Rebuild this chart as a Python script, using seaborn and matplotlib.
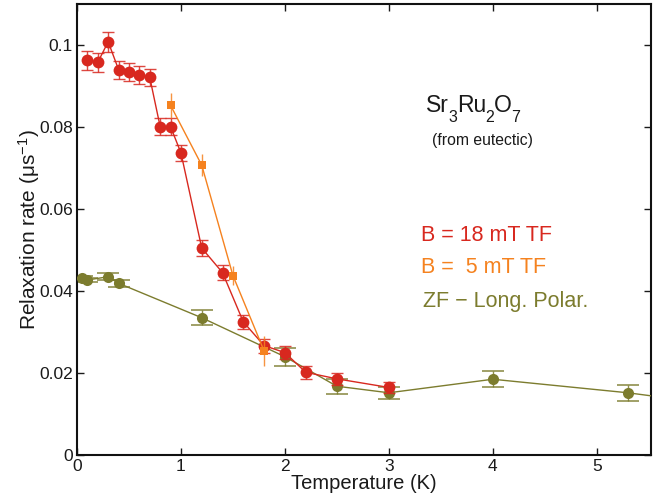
import matplotlib
matplotlib.use("Agg")
import matplotlib.pyplot as plt
import matplotlib.transforms as mtransforms
import seaborn as sns
import pandas as pd

# 18 mT TF (red)
t_red = [0.1, 0.2, 0.3, 0.4, 0.5, 0.6, 0.7, 0.8, 0.9, 1.0, 1.2, 1.4, 1.6, 1.8, 2.0, 2.2, 2.5, 3.0]
r_red = [0.0963, 0.0958, 0.1008, 0.0940, 0.0935, 0.0927, 0.0921, 0.0801, 0.0801, 0.0737,
         0.0505, 0.0445, 0.0325, 0.0267, 0.0250, 0.0202, 0.0186, 0.0165]
e_red = [0.0023, 0.0023, 0.0024, 0.0022, 0.0022, 0.0021, 0.0021, 0.0020, 0.0020, 0.0019,
         0.0019, 0.0018, 0.0017, 0.0017, 0.0016, 0.0016, 0.0015, 0.0014]

# 5 mT TF (orange)
t_or = [0.9, 1.2, 1.5, 1.8]
r_or = [0.0853, 0.0707, 0.0438, 0.0254]
e_or = [0.0030, 0.0027, 0.0024, 0.0037]

# ZF longitudinal polarisation (olive); last point lies beyond the x range
t_zf = [0.05, 0.1, 0.3, 0.4, 1.2, 2.0, 2.5, 3.0, 4.0, 5.3, 5.6]
r_zf = [0.0432, 0.0427, 0.0435, 0.0419, 0.0335, 0.0240, 0.0168, 0.0152, 0.0185, 0.0152, 0.0142]
e_zf = [0.0005, 0.0006, 0.0008, 0.0008, 0.0018, 0.0022, 0.0018, 0.0015, 0.0020, 0.0020, 0.0020]

RED = "#d8281f"
ORANGE = "#f5821f"
OLIVE = "#7c7c2e"
INK = "#1a1a1a"

sns.set_theme(style="ticks")
plt.rcParams["font.family"] = ["Liberation Sans", "DejaVu Sans"]
plt.rcParams["mathtext.fontset"] = "custom"
plt.rcParams["mathtext.rm"] = "Liberation Sans"
plt.rcParams["mathtext.it"] = "Liberation Sans:italic"

fig = plt.figure(figsize=(6.61, 5.04), dpi=100)
ax = fig.add_axes([0.1165, 0.097, 0.868, 0.895])

df_red = pd.DataFrame({"T": t_red, "r": r_red})
df_or = pd.DataFrame({"T": t_or, "r": r_or})
df_zf = pd.DataFrame({"T": t_zf, "r": r_zf})

# ZF
ax.errorbar(t_zf[:-1], r_zf[:-1], yerr=e_zf[:-1], fmt="none", ecolor=OLIVE, elinewidth=1.0,
            capsize=8, capthick=1.2, alpha=0.85, zorder=2)
sns.lineplot(data=df_zf, x="T", y="r", ax=ax, color=OLIVE, lw=1.0, marker="o",
             markersize=8, markeredgewidth=0, zorder=3, sort=False)
# red
ax.errorbar(t_red, r_red, yerr=e_red, fmt="none", ecolor=RED, elinewidth=1.0,
            capsize=4, capthick=1.0, alpha=0.85, zorder=4)
sns.lineplot(data=df_red, x="T", y="r", ax=ax, color=RED, lw=1.0, marker="o",
             markersize=8.5, markeredgewidth=0, zorder=5, sort=False)
# orange
ax.errorbar(t_or, r_or, yerr=e_or, fmt="none", ecolor=ORANGE, elinewidth=1.0,
            capsize=0, alpha=0.85, zorder=6)
sns.lineplot(data=df_or, x="T", y="r", ax=ax, color=ORANGE, lw=1.0, marker="s",
             markersize=6, markeredgewidth=0, zorder=7, sort=False)

ax.set_xlim(0, 5.52)
ax.set_ylim(0, 0.110)
ax.set_xticks([0, 1, 2, 3, 4, 5])
ax.set_xticklabels(["0", "1", "2", "3", "4", "5"])
ax.set_yticks([0, 0.02, 0.04, 0.06, 0.08, 0.1])
ax.set_yticklabels(["0", "0.02", "0.04", "0.06", "0.08", "0.1"])
ax.tick_params(direction="in", top=True, right=True, length=5, width=1.0,
               labelsize=12.5, colors=INK, pad=3)
for s in ax.spines.values():
    s.set_linewidth(1.5)
    s.set_color("#111111")

ax.set_xlabel("Temperature (K)", fontsize=14.5, labelpad=0, color=INK)
ax.set_ylabel("Relaxation rate (μs$^{-1}$)", fontsize=15, labelpad=-2, color=INK)

# chemical formula with low, fairly large subscripts, chained left to right
pix = mtransforms.IdentityTransform()
H = 504
renderer = fig.canvas.get_renderer()
formula = [("Sr", 0.0, 16.5), ("3", 10.0, 11.5), ("Ru", 0.0, 16.5),
           ("2", 10.0, 11.5), ("O", 0.0, 16.5), ("7", 10.0, 11.5)]
x_cur, base = 425.5, 111.7
for s, drop, fs in formula:
    t = fig.text(x_cur, H - base - drop, s, transform=pix, fontsize=fs, color=INK,
                 ha="left", va="baseline")
    x_cur = t.get_window_extent(renderer).x1 - 0.3

ax.text(0.618, 0.698, "(from eutectic)", transform=ax.transAxes, fontsize=11.3,
        color=INK, ha="left", va="center")
ax.text(0.599, 0.486, "B = 18 mT TF", transform=ax.transAxes, fontsize=15.5,
        color=RED, ha="left", va="center")
ax.text(0.599, 0.415, "B =  5 mT TF", transform=ax.transAxes, fontsize=15.5,
        color=ORANGE, ha="left", va="center")
ax.text(0.603, 0.341, "ZF \u2212 Long. Polar.", transform=ax.transAxes, fontsize=15.5,
        color=OLIVE, ha="left", va="center")

if ax.get_legend():
    ax.get_legend().remove()

fig.savefig("out.png", dpi=100)
